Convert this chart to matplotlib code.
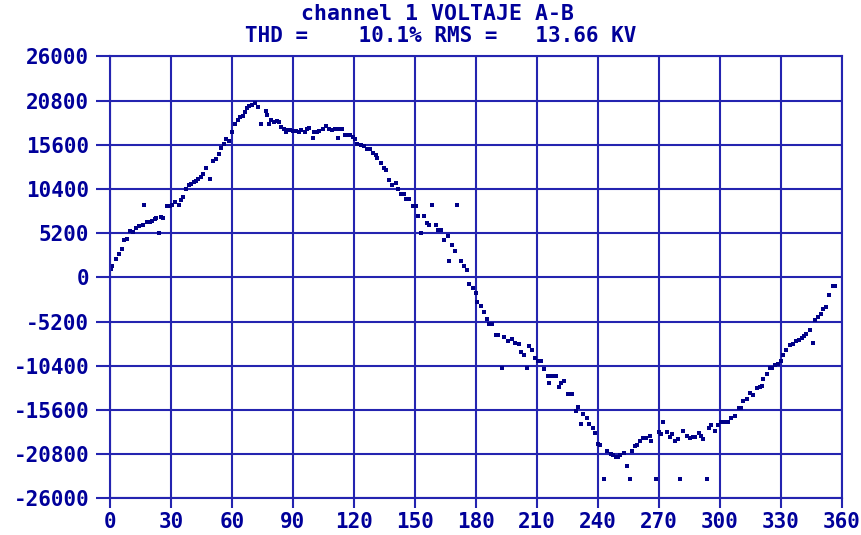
import matplotlib
matplotlib.use("Agg")
import matplotlib.pyplot as plt

# ======================
# Data read from the capture
# ======================

angle_deg = [
    0.3, 1.0, 2.9, 4.6, 6.0, 6.7, 8.2, 9.8, 11.1, 12.7, 14.4, 16.0, 16.7, 18.3,
    19.6, 20.6, 21.9, 22.5, 23.9, 25.3, 26.1, 28.1, 29.4, 30.7, 32.0, 33.7,
    35.1, 35.9, 37.6, 38.9, 40.0, 41.2, 42.2, 43.3, 44.6, 45.7, 47.4, 49.3,
    50.7, 52.0, 53.6, 54.7, 55.9, 57.2, 58.5, 60.1, 61.3, 62.9, 64.0, 65.4,
    66.3, 67.3, 68.6, 69.9, 71.2, 72.7, 74.5, 76.5, 77.1, 78.4, 79.4, 80.9,
    82.0, 83.0, 84.3, 85.6, 86.6, 87.4, 88.7, 90.2, 91.5, 92.8, 94.1, 95.8,
    96.7, 98.0, 99.7, 100.5, 101.8, 102.9, 104.6, 106.2, 107.5, 109.2, 110.8,
    111.9, 112.4, 114.1, 115.4, 116.5, 118.0, 119.3, 120.4, 121.7, 123.4,
    124.7, 126.3, 127.8, 129.4, 130.7, 131.5, 133.5, 134.8, 135.6, 137.3,
    138.9, 140.5, 141.7, 143.3, 144.4, 145.8, 147.1, 149.0, 150.7, 151.5,
    152.9, 154.6, 156.0, 156.9, 158.5, 160.5, 161.4, 162.7, 164.4, 166.0,
    166.7, 168.3, 169.9, 170.9, 172.5, 174.2, 175.6, 176.5, 178.4, 180.1,
    180.7, 182.4, 184.0, 185.6, 186.6, 187.9, 189.9, 190.8, 192.7, 193.8,
    195.7, 197.7, 199.3, 201.0, 202.3, 203.6, 205.1, 206.2, 207.5, 209.2,
    210.5, 211.8, 213.4, 215.2, 216.0, 217.3, 219.3, 220.9, 221.9, 223.2,
    225.2, 227.1, 229.1, 230.4, 231.4, 232.8, 234.5, 235.6, 237.3, 238.6,
    240.2, 241.2, 242.8, 244.4, 246.4, 247.2, 248.7, 249.7, 251.0, 252.6,
    254.3, 255.9, 256.9, 258.2, 259.2, 260.8, 262.1, 263.7, 265.4, 266.3,
    268.3, 269.9, 270.9, 272.2, 274.0, 275.5, 276.5, 277.8, 279.4, 280.4,
    282.0, 283.7, 285.3, 286.6, 287.6, 289.6, 290.5, 291.8, 293.5, 294.8,
    295.8, 297.4, 299.0, 300.7, 302.3, 303.9, 305.6, 307.5, 309.2, 310.5,
    311.4, 313.1, 314.7, 316.3, 318.0, 319.6, 320.6, 321.2, 322.9, 324.5,
    325.5, 327.1, 328.4, 330.1, 331.1, 332.7, 334.3, 335.8, 337.3, 338.9,
    340.2, 341.2, 342.5, 344.1, 345.8, 346.7, 348.0, 349.7, 350.5, 352.0,
    353.8, 355.4, 356.5,
]

voltage = [
    1000, 1400, 2200, 2700, 3400, 4450, 4570, 5480, 5360, 5760, 6040, 6160,
    8540, 6480, 6560, 6630, 6870, 7030, 5240, 7150, 6950, 8350, 8460, 8540,
    8860, 8540, 9140, 9420, 10410, 10850, 11010, 11250, 11400, 11600, 11840,
    12120, 12840, 11600, 13710, 13910, 14510, 15220, 15700, 16300, 16100,
    17090, 18010, 18560, 18880, 19000, 19480, 19950, 20150, 20270, 20470,
    20070, 18090, 19560, 19080, 18090, 18480, 18280, 18360, 18280, 17690,
    17450, 17090, 17290, 17290, 17210, 17210, 17090, 17290, 17090, 17410,
    17570, 16420, 17130, 17170, 17210, 17410, 17770, 17490, 17370, 17490,
    16420, 17490, 17490, 16810, 16810, 16810, 16500, 16300, 15700, 15620,
    15500, 15100, 15100, 14590, 14430, 14110, 13510, 12920, 12640, 11410,
    10850, 11130, 10450, 9820, 9820, 9220, 9220, 8350, 8350, 7270, 5240,
    7270, 6360, 6160, 8540, 6160, 5560, 5560, 4370, 4890, 1980, 3770, 3100,
    8540, 1980, 1390, 910, -800, -1200, -1790, -2910, -3380, -4020, -4890,
    -5450, -5450, -6800, -6800, -10700, -7040, -7440, -7240, -7760, -7840,
    -8750, -9190, -10660, -8070, -8550, -9430, -9820, -9820, -10740, -11570,
    -12450, -11570, -11570, -12850, -12450, -12210, -13720, -13720, -15710,
    -15310, -17220, -16100, -16500, -17220, -17700, -18290, -19600, -19760,
    -23740, -20480, -20800, -20960, -21190, -21190, -20960, -20720, -22190,
    -23740, -20480, -19880, -19680, -19210, -18890, -18890, -18690, -19210,
    -23740, -18170, -18410, -17060, -18170, -18810, -18410, -19210, -18970,
    -23740, -18090, -18690, -18890, -18730, -18730, -18290, -18690, -18970,
    -23740, -17770, -17380, -18090, -17380, -16980, -16980, -16980, -16500,
    -16300, -15390, -15390, -14590, -14320, -13640, -13800, -13000, -12920,
    -12730, -11970, -11330, -10700, -10620, -10260, -10140, -9820, -9190,
    -8550, -7960, -7840, -7440, -7360, -7160, -6880, -6640, -6170, -7680,
    -5050, -4700, -4260, -3700, -3460, -2110, -1000, -1000,
]

x_ticks = list(range(0, 361, 30))
y_ticks = [-26000, -20800, -15600, -10400, -5200, 0, 5200, 10400, 15600, 20800, 26000]

title_line1 = "channel 1 VOLTAJE A-B"
title_line2 = "THD =    10.1% RMS =   13.66 KV"

# ======================
# Style
# ======================

GRID_BLUE = "#2424b0"
TEXT_BLUE = "#00009a"
DOT_BLUE = "#000088"

plt.rcParams["font.family"] = ["DejaVu Sans Mono"]
plt.rcParams["font.weight"] = "bold"

fig = plt.figure(figsize=(8.62, 5.35), dpi=100)
ax = fig.add_axes([0.1276, 0.0686, 0.8492, 0.8258])

ax.plot(angle_deg, voltage, linestyle="none", marker="s", markersize=2.4,
        markeredgewidth=0, color=DOT_BLUE)

ax.set_xlim(0, 360)
ax.set_ylim(-26000, 26000)
ax.set_xticks(x_ticks)
ax.set_yticks(y_ticks)
ax.set_xticklabels([str(t) for t in x_ticks])
ax.set_yticklabels([str(t) for t in y_ticks])

ax.grid(True, color=GRID_BLUE, linewidth=1.5)
ax.set_axisbelow(True)
for s in ax.spines.values():
    s.set_color(GRID_BLUE)
    s.set_linewidth(1.5)

ax.tick_params(axis="y", length=10, width=1.5, color=GRID_BLUE, pad=5,
               labelsize=15, labelcolor=TEXT_BLUE)
ax.tick_params(axis="x", length=7, width=1.5, color=GRID_BLUE, pad=3,
               labelsize=15, labelcolor=TEXT_BLUE)
for lbl in ax.get_xticklabels() + ax.get_yticklabels():
    lbl.set_fontweight("bold")

fig.text(0.508, 0.974, title_line1, ha="center", va="center", fontsize=15.5,
         fontweight="bold", color=TEXT_BLUE)
fig.text(0.511, 0.933, title_line2, ha="center", va="center", fontsize=15,
         fontweight="bold", color=TEXT_BLUE)

fig.savefig("out.png", dpi=100)
